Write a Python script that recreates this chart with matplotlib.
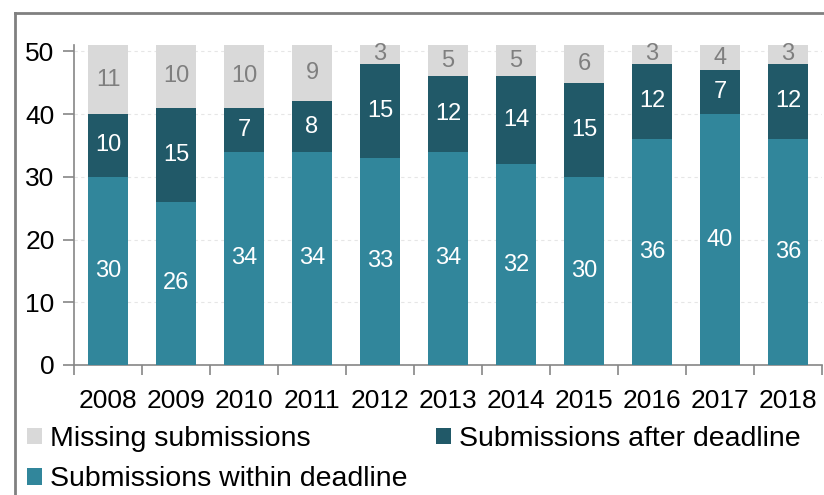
import matplotlib
matplotlib.use("Agg")
import matplotlib.pyplot as plt
from matplotlib.lines import Line2D
import numpy as np

plt.rcParams['font.family'] = ['Liberation Sans', 'DejaVu Sans']

years = ["2008", "2009", "2010", "2011", "2012", "2013", "2014", "2015", "2016", "2017", "2018"]
within = [30, 26, 34, 34, 33, 34, 32, 30, 36, 40, 36]
after = [10, 15, 7, 8, 15, 12, 14, 15, 12, 7, 12]
missing = [11, 10, 10, 9, 3, 5, 5, 6, 3, 4, 3]

c_within = "#31869B"
c_after = "#215968"
c_missing = "#D9D9D9"

W, H = 824, 495
fig = plt.figure(figsize=(W / 100, H / 100), dpi=100)
ax = fig.add_axes([74 / W, (H - 365) / H, (822 - 74) / W, (365 - 45) / H])

x = np.arange(len(years))
within_a = np.array(within)
after_a = np.array(after)
missing_a = np.array(missing)
bw = 0.59
b1 = ax.bar(x, within_a, bw, color=c_within, label="Submissions within deadline", zorder=3)
b2 = ax.bar(x, after_a, bw, bottom=within_a, color=c_after, label="Submissions after deadline", zorder=3)
b3 = ax.bar(x, missing_a, bw, bottom=within_a + after_a, color=c_missing, label="Missing submissions", zorder=3)

ax.bar_label(b1, labels=[str(v) for v in within], label_type='center', color='white', fontsize=17)
ax.bar_label(b2, labels=[str(v) for v in after], label_type='center', color='white', fontsize=17)
ax.bar_label(b3, labels=[str(v) for v in missing], label_type='center', color='#7F7F7F', fontsize=17)

ax.set_xlim(-0.5, len(years) - 0.5)
ax.set_ylim(0, 51)
ax.set_yticks([0, 10, 20, 30, 40, 50])
ax.set_xticks(x)
ax.set_xticklabels(years)
ax.set_xticks(np.arange(-0.5, len(years)), minor=True)
ax.tick_params(axis='x', which='major', length=0, labelsize=19, pad=17.5)
ax.tick_params(axis='x', which='minor', length=7, color='#868686', width=1.2)
ax.tick_params(axis='y', length=8, color='#868686', width=1.2, labelsize=19, pad=6)
for s in ['top', 'right']:
    ax.spines[s].set_visible(False)
for s in ['left', 'bottom']:
    ax.spines[s].set_color('#868686')
    ax.spines[s].set_linewidth(1.2)
ax.yaxis.grid(True, color='#E6E6E6', linestyle=(0, (3, 3)), linewidth=0.8, zorder=0)
ax.set_axisbelow(True)

handles = [b3, b1, b2]
leg = fig.legend(handles, [h.get_label() for h in handles], ncol=2, loc='upper left',
                 bbox_to_anchor=(27 / W, (H - 426) / H), frameon=False, fontsize=20.5,
                 handlelength=0.53, handleheight=0.53, handletextpad=0.28,
                 columnspacing=0.99, labelspacing=0.5, borderaxespad=0, borderpad=0)

# outer chart border (top and left visible)
fig.add_artist(Line2D([15 / W, 15 / W], [0, (H - 13) / H], color='#808080', linewidth=2, transform=fig.transFigure))
fig.add_artist(Line2D([15 / W, 1], [(H - 13) / H, (H - 13) / H], color='#808080', linewidth=2, transform=fig.transFigure))

fig.savefig("out.png", dpi=100)
